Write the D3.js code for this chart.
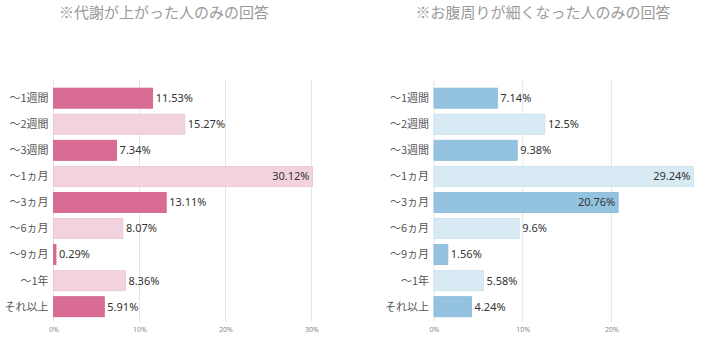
<!DOCTYPE html>
<html>
<head>
<meta charset="utf-8">
<script src="https://cdn.jsdelivr.net/npm/d3@7"></script>
<style>
  html, body { margin: 0; padding: 0; background: #fff; }
  svg { display: block; font-family: "Noto Sans CJK JP", "Noto Sans", sans-serif; }
</style>
</head>
<body>
<svg id="chart" width="705" height="345"></svg>
<script>
// Period categories shared by both panels
const categories = ["～1週間", "～2週間", "～3週間", "～1ヵ月", "～3ヵ月", "～6ヵ月", "～9ヵ月", "～1年", "それ以上"];

// Panel titles
const titleMetabolism = "※代謝が上がった人のみの回答";
const titleWaist = "※お腹周りが細くなった人のみの回答";

// Share of respondents (%) per period
const metabolismValues = [11.53, 15.27, 7.34, 30.12, 13.11, 8.07, 0.29, 8.36, 5.91];
const waistValues = [7.14, 12.5, 9.38, 29.24, 20.76, 9.6, 1.56, 5.58, 4.24];

// Axis ticks (%)
const metabolismTicks = [0, 10, 20, 30];
const waistTicks = [0, 10, 20];

const svg = d3.select("#chart");

function drawPanel(opts) {
  const { title, titleX, values, ticks, x0, x1, colors } = opts;
  const top = 85, bottom = 320;
  const data = categories.map((c, i) => ({ cat: c, value: values[i], i }));

  const x = d3.scaleLinear().domain([0, d3.max(values)]).range([x0, x1]);
  const y = d3.scaleBand().domain(categories).range([top, top + 26.1 * categories.length])
    .paddingInner(0.23).paddingOuter(0.12);

  const g = svg.append("g");

  // Title
  g.append("text")
    .attr("x", titleX).attr("y", 18)
    .attr("text-anchor", "middle")
    .attr("font-size", 15)
    .attr("fill", "#9a9a9a")
    .text(title);

  // Vertical gridlines
  g.append("g").selectAll("line").data(ticks).join("line")
    .attr("x1", d => x(d)).attr("x2", d => x(d))
    .attr("y1", 80).attr("y2", bottom + 2)
    .attr("stroke", "#e6e6e6").attr("stroke-width", 1);

  // Bottom axis labels
  const axis = d3.axisBottom(x).tickValues(ticks).tickFormat(d => d + "%").tickSize(0);
  const ax = g.append("g").attr("transform", `translate(0,${bottom + 4})`).call(axis);
  ax.select(".domain").remove();
  ax.selectAll("text").attr("font-size", 7).attr("fill", "#888")
    .attr("font-family", "\"Noto Sans\", sans-serif");

  // Bars
  g.append("g").selectAll("rect").data(data).join("rect")
    .attr("x", x(0))
    .attr("y", d => y(d.cat))
    .attr("width", d => Math.max(1, x(d.value) - x(0)))
    .attr("height", y.bandwidth())
    .attr("fill", d => d.i % 2 === 0 ? colors[0] : colors[1])
    .attr("stroke", d => d.i % 2 === 0 ? colors[2] : colors[3])
    .attr("stroke-width", 0.8);

  // Category labels
  g.append("g").selectAll("text").data(data).join("text")
    .attr("x", x(0) - 5)
    .attr("y", d => y(d.cat) + y.bandwidth() / 2)
    .attr("dy", "0.35em")
    .attr("text-anchor", "end")
    .attr("font-size", 11)
    .attr("fill", "#555")
    .text(d => d.cat);

  // Value labels: inside the bar for long bars, outside otherwise
  const maxV = d3.max(values);
  g.append("g").selectAll("text").data(data).join("text")
    .attr("x", d => d.value > maxV * 0.6 ? x(d.value) - 3 : x(d.value) + 3)
    .attr("y", d => y(d.cat) + y.bandwidth() / 2)
    .attr("dy", "0.35em")
    .attr("text-anchor", d => d.value > maxV * 0.6 ? "end" : "start")
    .attr("font-size", 11)
    .attr("fill", "#333")
    .attr("font-family", "\"Noto Sans\", sans-serif")
    .text(d => d.value + "%");
}

drawPanel({
  title: titleMetabolism, titleX: 164,
  values: metabolismValues, ticks: metabolismTicks,
  x0: 53.5, x1: 312.5,
  colors: ["#d96c94", "#f2d2df", "#cf5f88", "#ecc5d4"]
});

drawPanel({
  title: titleWaist, titleX: 543,
  values: waistValues, ticks: waistTicks,
  x0: 434, x1: 693.4,
  colors: ["#93c3e0", "#d8eaf4", "#86b8d6", "#c9e0ee"]
});
</script>
</body>
</html>
